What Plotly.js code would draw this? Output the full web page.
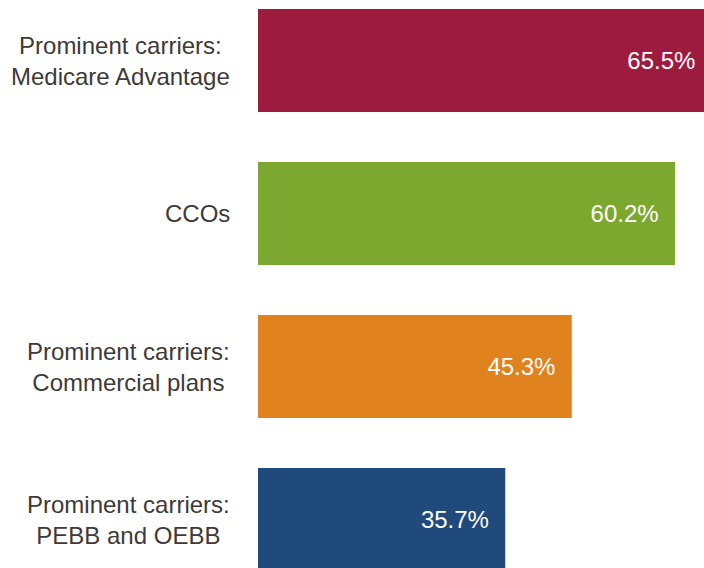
<!DOCTYPE html>
<html>
<head>
<meta charset="utf-8">
<script src="https://cdn.plot.ly/plotly-3.0.1.min.js"></script>
<style>
html,body{margin:0;padding:0;background:#fff;}
#chart{width:704px;height:568px;}
</style>
</head>
<body>
<div id="chart"></div>
<script>
var categories = [
  "Prominent carriers:<br>Medicare Advantage",
  "CCOs",
  "Prominent carriers:<br>Commercial plans",
  "Prominent carriers:<br>PEBB and OEBB"
];
var values = [65.5, 60.2, 45.3, 35.7];
var barColors = ["#9E1B40", "#7DA830", "#E0821E", "#204A7B"];

var FONT = '"Liberation Sans", Arial, sans-serif';

var trace = {
  type: "bar",
  orientation: "h",
  x: values,
  y: categories,
  marker: {color: barColors, line: {width: 0}},
  texttemplate: "%{x:.1f}%\u00a0\u00a0",
  textposition: "inside",
  insidetextanchor: "end",
  constraintext: "none",
  textangle: 0,
  textfont: {family: FONT, size: 24, color: "#ffffff"},
  hoverinfo: "none",
  cliponaxis: true
};

var annotations = categories.map(function (c) {
  return {
    xref: "paper", yref: "y",
    x: 0, y: c,
    xanchor: "right", yanchor: "middle",
    xshift: -26,
    align: "center",
    showarrow: false,
    text: c,
    font: {family: FONT, size: 24, color: "#3d3a38"}
  };
});

var layout = {
  width: 704, height: 568,
  margin: {l: 258, r: 0, t: 0, b: 0, pad: 0},
  paper_bgcolor: "#ffffff",
  plot_bgcolor: "#ffffff",
  bargap: 0.327,
  showlegend: false,
  xaxis: {range: [0, 64.39], visible: false, showgrid: false, zeroline: false, fixedrange: true},
  yaxis: {type: "category", range: [3.317, -0.3954], visible: false, showgrid: false, zeroline: false, fixedrange: true},
  annotations: annotations
};

Plotly.newPlot("chart", [trace], layout, {displayModeBar: false, staticPlot: true});
</script>
</body>
</html>
